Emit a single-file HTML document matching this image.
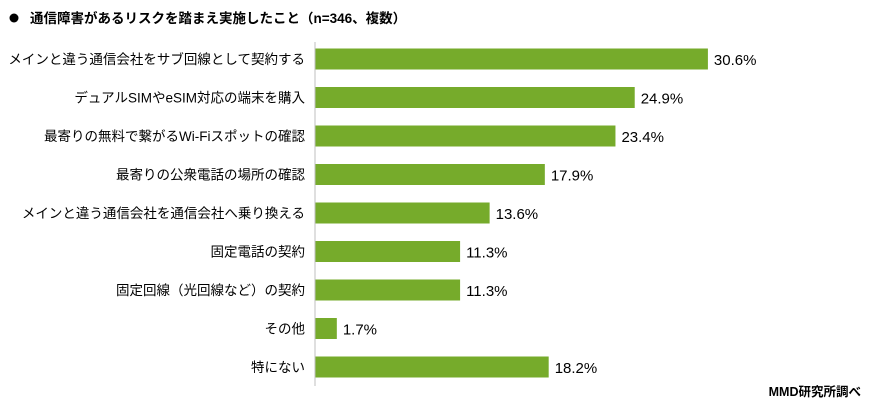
<!DOCTYPE html>
<html><head><meta charset="utf-8"><style>
body{margin:0;background:#fff;width:872px;height:409px;overflow:hidden;font-family:"Liberation Sans","Noto Sans CJK JP",sans-serif;}
</style></head><body>
<svg width="872" height="409">
<g id="g"></g>
</svg>
<script>
const categories=["メインと違う通信会社をサブ回線として契約する","デュアルSIMやeSIM対応の端末を購入","最寄りの無料で繋がるWi-Fiスポットの確認","最寄りの公衆電話の場所の確認","メインと違う通信会社を通信会社へ乗り換える","固定電話の契約","固定回線（光回線など）の契約","その他","特にない"];
const values=[30.6,24.9,23.4,17.9,13.6,11.3,11.3,1.7,18.2];
const labels=["30.6%","24.9%","23.4%","17.9%","13.6%","11.3%","11.3%","1.7%","18.2%"];
const NS="http://www.w3.org/2000/svg";
const g=document.getElementById('g');
const x0=315,pxPer=12.84,y0=59,step=38.5,bh=21;
const xs=v=>x0+v*pxPer;
const ys=i=>y0+i*step;
function el(t,a){const e=document.createElementNS(NS,t);for(const k in a)e.setAttribute(k,a[k]);g.appendChild(e);return e;}
let t=el('circle',{cx:14,cy:18,r:4.5,fill:'#000'});


t=el('text',{x:30,y:23,'font-size':13.5,'font-weight':'bold',fill:'#000'});t.textContent='通信障害があるリスクを踏まえ実施したこと（n=346、複数）';


categories.forEach((c,i)=>{
 const y=ys(i);
 let r=el('rect',{x:x0,y:y-bh/2,width:xs(values[i])-x0,height:bh,fill:'#76ab2b'});
 
 
 let l=el('text',{x:305,y:y+5,'font-size':13.5,'text-anchor':'end',fill:'#000'});l.textContent=c;
 
 
 let v=el('text',{x:xs(values[i])+6,y:y+6,'font-size':15,fill:'#000'});v.textContent=labels[i];
 
 
});
let ax=el('line',{x1:x0,y1:42,x2:x0,y2:386,stroke:'#bfbfbf','stroke-width':1});


let s=el('text',{x:861,y:396,'font-size':12.5,'font-weight':'bold','text-anchor':'end',fill:'#000'});s.textContent='MMD研究所調べ';


</script>
</body></html>
